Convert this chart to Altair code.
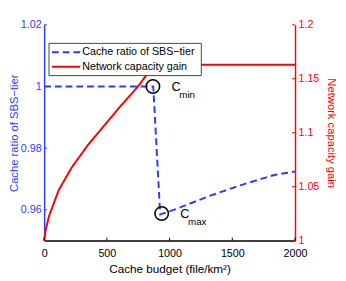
import altair as alt
import pandas as pd

# ---- data ----
blue_x = [0, 870, 925, 1000, 1055, 1312, 1576, 1836, 2000]
blue_y = [1.0, 1.0, 0.9585, 0.9595, 0.9603, 0.9644, 0.9681, 0.9713, 0.9724]

red_x = [0, 13, 39, 117, 221, 352, 482, 612, 742, 820, 872, 2000]
red_y = [1.0, 1.0103, 1.0227, 1.047, 1.068, 1.089, 1.107, 1.125, 1.142, 1.154, 1.163, 1.163]

x_ticks = [0, 500, 1000, 1500, 2000]
left_ticks = [0.96, 0.98, 1.0, 1.02]
right_ticks = [1.0, 1.05, 1.1, 1.15, 1.2]

ann_x = [867, 937]
ann_y = [1.0, 0.9588]
ann_sub = ["min", "max"]

series = ["Cache ratio of SBS\u2212tier", "Network capacity gain"]
BLUE = "#2b3cff"
RED = "#ff0000"
FONT = "Liberation Sans"
W, H = 257, 221

blue_df = pd.DataFrame({"x": blue_x, "y": blue_y, "series": series[0]})
red_df = pd.DataFrame({"x": red_x, "y": red_y, "series": series[1]})
ann_df = pd.DataFrame({"x": ann_x, "y": ann_y, "sub": ann_sub, "c": "C"})
xt_df = pd.DataFrame({"t": x_ticks})
lt_df = pd.DataFrame({"t": left_ticks})
rt_df = pd.DataFrame({"t": right_ticks})
leg_df = pd.DataFrame({"series": series})

xscale = alt.Scale(domain=[0, 2000], nice=False)
yl_scale = alt.Scale(domain=[0.95, 1.02], nice=False, zero=False)
yr_scale = alt.Scale(domain=[1.0, 1.2], nice=False, zero=False)

color = alt.Color("series:N", scale=alt.Scale(domain=series, range=[BLUE, RED]), legend=None)
dash = alt.StrokeDash("series:N", scale=alt.Scale(domain=series, range=[[7, 4], [1, 0]]), legend=None)

x_enc = alt.X("x:Q", scale=xscale,
              axis=alt.Axis(values=x_ticks, format="d", title="Cache budget (file/km\u00b2)", grid=False,
                            tickSize=0, labelPadding=7, domainColor="black", titlePadding=6,
                            labelColor="black", titleColor="black", labelFlush=False))

yl_axis = alt.Axis(values=left_ticks, format="~g", title="Cache ratio of SBS\u2212tier", grid=False,
                   tickSize=0, labelPadding=3, domainColor=BLUE, labelColor=BLUE,
                   titleColor=BLUE, titlePadding=1, titleFontSize=11.5, orient="left", labelFlush=False)
yr_axis = alt.Axis(values=right_ticks, format="~g", title="Network capacity gain", grid=False,
                   tickSize=0, labelPadding=3, domainColor=RED, labelColor=RED,
                   titleColor=RED, titlePadding=7, titleFontSize=11.5, orient="right", labelFlush=False)

blue_line = alt.Chart(blue_df).mark_line(strokeWidth=2).encode(
    x=x_enc, y=alt.Y("y:Q", scale=yl_scale, axis=yl_axis), color=color, strokeDash=dash)

left_tick_marks = alt.Chart(lt_df).mark_rule(color=BLUE, strokeWidth=1).encode(
    y=alt.Y("t:Q", scale=yl_scale), x=alt.value(0), x2=alt.value(3))

circles = alt.Chart(ann_df).mark_point(shape="circle", filled=False, color="black",
                                       strokeWidth=1.6, size=190, opacity=1).encode(
    x=alt.X("x:Q", scale=xscale), y=alt.Y("y:Q", scale=yl_scale))
c_text = alt.Chart(ann_df).mark_text(align="left", baseline="middle", dx=19, dy=1,
                                     fontSize=13, font=FONT, color="black").encode(
    x=alt.X("x:Q", scale=xscale), y=alt.Y("y:Q", scale=yl_scale), text="c:N")
sub_text = alt.Chart(ann_df).mark_text(align="left", baseline="middle", dx=27, dy=9,
                                       fontSize=10, font=FONT, color="black").encode(
    x=alt.X("x:Q", scale=xscale), y=alt.Y("y:Q", scale=yl_scale), text="sub:N")

blue_group = alt.layer(blue_line, left_tick_marks, circles, c_text, sub_text)

red_line = alt.Chart(red_df).mark_line(strokeWidth=2).encode(
    x=alt.X("x:Q", scale=xscale), y=alt.Y("y:Q", scale=yr_scale, axis=yr_axis),
    color=color, strokeDash=dash)
right_tick_marks = alt.Chart(rt_df).mark_rule(color=RED, strokeWidth=1).encode(
    y=alt.Y("t:Q", scale=yr_scale), x=alt.value(W), x2=alt.value(W - 3))
red_group = alt.layer(red_line, right_tick_marks)

x_tick_marks = alt.Chart(xt_df).mark_rule(color="black", strokeWidth=1).encode(
    x=alt.X("t:Q", scale=xscale), y=alt.value(H), y2=alt.value(H - 3))

# manual legend (box, symbol lines, labels) placed in pixel space
LEG_TOP = 19
leg_layers = [alt.Chart(pd.DataFrame({"a": [0]})).mark_rect(
    fill="white", stroke="#444444", strokeWidth=1).encode(
    x=alt.value(5), x2=alt.value(161), y=alt.value(LEG_TOP), y2=alt.value(LEG_TOP + 33))]
for i, name in enumerate(series):
    base = alt.Chart(leg_df).transform_filter(alt.datum.series == name)
    row_y = LEG_TOP + 9 + 15 * i
    leg_layers.append(base.mark_rule(strokeWidth=2).encode(
        y=alt.value(row_y), x=alt.value(8), x2=alt.value(37), color=color, strokeDash=dash))
    leg_layers.append(base.mark_text(align="left", baseline="middle", fontSize=11,
                                     font=FONT, color="black").encode(
        y=alt.value(row_y), x=alt.value(39), text="series:N"))
legend_group = alt.layer(*leg_layers)

chart = alt.layer(blue_group, red_group, x_tick_marks, legend_group).resolve_scale(
    y="independent", color="shared", strokeDash="shared"
).properties(
    width=W, height=H,
    autosize=alt.AutoSizeParams(type="none"),
    padding={"left": 37, "top": 14, "right": 44, "bottom": 32},
).configure(font=FONT).configure_view(strokeWidth=0).configure_axis(
    labelFontSize=11, titleFontSize=12, titleFontWeight="normal", labelFont=FONT, titleFont=FONT,
    domainWidth=1.5
)

chart.save("out.html", embed_options={"renderer": "svg", "actions": False})
